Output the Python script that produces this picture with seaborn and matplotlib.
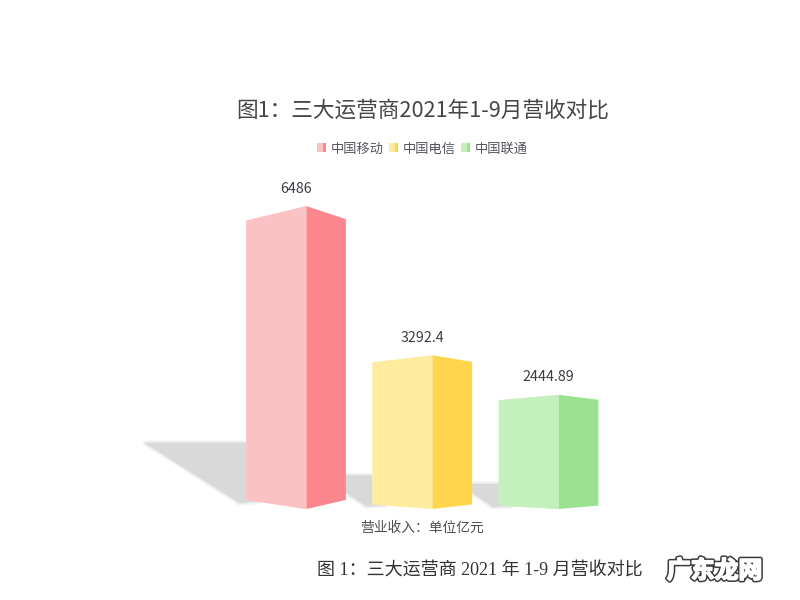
import matplotlib
matplotlib.use("Agg")
import matplotlib.pyplot as plt
import matplotlib.patheffects as pe
from matplotlib.patches import Polygon, Rectangle
import pandas as pd
import seaborn as sns

title = "图1：三大运营商2021年1-9月营收对比"
caption = "图 1：三大运营商 2021 年 1-9 月营收对比"
xlabel = "营业收入：单位亿元"
watermark = "广东龙网"

companies = ["中国移动", "中国电信", "中国联通"]
revenue = [6486, 3292.4, 2444.89]
value_labels = ["6486", "3292.4", "2444.89"]
front_colors = ["#fbc2c4", "#feeb9e", "#c4f0bd"]
side_colors = ["#fc868e", "#ffd54d", "#9ae291"]

sns.set_theme(style="white")
plt.rcParams["font.family"] = ["Noto Sans CJK SC", "DejaVu Sans"]

df = pd.DataFrame({"company": companies, "revenue": revenue})

fig = plt.figure(figsize=(8, 6), dpi=100)
ax = fig.add_axes([0, 0, 1, 1])
sns.barplot(data=df, x="company", y="revenue", hue="company",
            palette=dict(zip(companies, front_colors)), width=0.79,
            saturation=1, legend=False, ax=ax)

# 509px is the floor, 126.25px between bars, 0.0467 px per unit
ax.set_xlim(-296 / 126.25, (800 - 296) / 126.25)
ax.set_ylim(-91 / 0.0467, 509 / 0.0467)
ax.axis("off")

# turn the flat bars into boxes seen from the front corner
front_share = 0.605
for bar, side, label in zip(ax.patches, side_colors, value_labels):
    x0 = bar.get_x()
    w = bar.get_width()
    h = bar.get_height()
    x1 = x0 + w * front_share
    x2 = x0 + w

    front = Polygon([(x0, 0.03 * h), (x1, 0), (x1, h), (x0, 0.952 * h)],
                    closed=True, fc=bar.get_facecolor(), ec="none", zorder=3)
    ax.add_patch(front)
    bar.set_width(w * front_share)
    bar.set_zorder(3)
    bar.set_clip_path(front)

    ax.add_patch(Polygon([(x1, 0), (x2, 0.03 * h), (x2, 0.957 * h), (x1, h)],
                         closed=True, fc=side, ec="none", zorder=3))

    # soft grey shadow thrown to the left
    tip = x0 - 0.8 * h / 6486
    shadow = [(tip, 0.218 * h), (x0 + 0.1, 0.218 * h), (x0 + 0.1, 0.026 * h),
              (x0 - 0.05, 0.02 * h)]
    for lw, alpha in [(4, 0.25), (2, 0.4)]:
        ax.add_patch(Polygon(shadow, closed=True, fc="#d9d9d9", ec="#d9d9d9",
                             lw=lw, alpha=alpha, joinstyle="round", zorder=1))
    ax.add_patch(Polygon(shadow, closed=True, fc="#d9d9d9", ec="none", zorder=2))

    ax.annotate(label, (x0 + w / 2, h), xytext=(0, 12.5), textcoords="offset points",
                ha="center", va="center", fontsize=10.3, color="#3d3d46")

fig.text(423 / 800, 1 - 111 / 600, title, ha="center", va="center",
         fontsize=15.6, color="#464646")
fig.text(422.5 / 800, 1 - 528 / 600, xlabel, ha="center", va="center",
         fontsize=9.9, color="#4d4d4d")

# legend keys are half front colour, half side colour
for name, c1, c2, key_x in zip(companies, front_colors, side_colors, [317, 389, 461]):
    fig.add_artist(Rectangle((key_x / 800, 1 - 152 / 600), 5.5 / 800, 9 / 600,
                             transform=fig.transFigure, fc=c1, ec="none"))
    fig.add_artist(Rectangle(((key_x + 5.5) / 800, 1 - 152 / 600), 3.5 / 800, 9 / 600,
                             transform=fig.transFigure, fc=c2, ec="none"))
    fig.text((key_x + 14) / 800, 1 - 149 / 600, name, ha="left", va="center",
             fontsize=9.5, color="#555560")

fig.text(317 / 800, 1 - 571 / 600, caption, ha="left", va="center", fontsize=13,
         color="#333333", family=["Liberation Serif", "Noto Sans CJK SC"])
fig.text(714.5 / 800, 1 - 571 / 600, watermark, ha="center", va="center",
         fontsize=17.2, fontweight="bold", color="white",
         path_effects=[pe.Stroke(linewidth=3.4, foreground="#3c3c3c"),
                       pe.Stroke(linewidth=1.2, foreground="white"),
                       pe.Normal()])

fig.savefig("out.png", dpi=100)
